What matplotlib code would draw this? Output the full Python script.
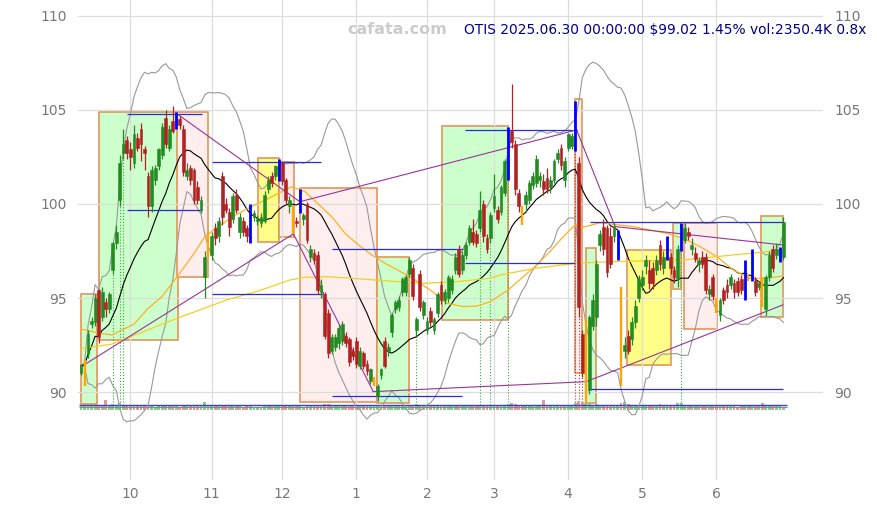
import matplotlib
matplotlib.use("Agg")
import matplotlib.pyplot as plt
from matplotlib.patches import Rectangle
import numpy as np
import pandas as pd

# trading calendar shown on the chart
START, END = "2024-09-11", "2025-06-30"
HOLIDAYS = ["2024-11-28", "2024-12-25", "2025-01-01", "2025-01-09", "2025-01-20",
            "2025-02-17", "2025-04-18", "2025-05-26", "2025-06-19"]

opens = [
    91.0, 91.3, 92.0, 93.6, 93.7, 95.4, 94.0, 94.8, 94.4, 96.5,
    97.9, 100.2, 102.7, 103.4, 102.9, 102.2, 103.5, 104.0, 102.9, 101.5,
    99.9, 101.3, 102.0, 102.6, 104.6, 103.0, 104.4, 104.1, 104.5, 104.0,
    101.5, 101.9, 101.8, 100.9, 99.7, 96.1, 97.8, 97.3, 98.7, 98.3,
    101.5, 100.0, 99.6, 99.2, 100.5, 98.5, 99.1, 98.7, 98.0, 99.3,
    99.1, 99.0, 99.1, 100.8, 101.5, 101.5, 101.5, 102.2, 101.3, 99.9,
    99.8, 99.1, 99.6, 99.2, 100.0, 97.2, 97.4, 97.3, 95.3, 95.2,
    94.2, 92.2, 92.4, 92.6, 92.7, 93.0, 92.8, 92.2, 92.7, 91.4,
    92.1, 91.5, 90.6, 90.4, 89.8, 90.9, 92.7, 92.2, 93.2, 94.4,
    94.5, 95.3, 95.3, 96.3, 96.6, 93.3, 96.3, 94.1, 93.3, 94.3,
    93.3, 94.2, 95.7, 94.9, 95.0, 95.4, 96.5, 97.6, 96.5, 97.3,
    98.0, 98.5, 98.4, 98.7, 100.0, 98.2, 98.2, 99.8, 99.7, 99.6,
    100.6, 101.5, 103.9, 103.2, 100.6, 99.8, 100.0, 100.2, 101.0, 101.1,
    101.3, 101.2, 101.4, 100.9, 101.3, 102.4, 103.0, 101.3, 103.0, 103.1,
    103.0, 102.2, 93.1, 90.6, 90.1, 93.5, 94.0, 97.8, 98.8, 98.7,
    98.3, 98.3, 97.2, 95.6, 92.2, 93.0, 92.8, 93.7, 95.0, 95.7,
    96.7, 96.5, 96.6, 96.5, 97.8, 96.6, 97.1, 97.2, 96.5, 96.0,
    97.6, 98.1, 98.5, 97.6, 97.4, 96.8, 97.2, 97.2, 95.2, 96.1,
    94.9, 94.1, 95.4, 95.7, 95.7, 95.8, 95.9, 96.0, 95.0, 96.2,
    96.0, 95.9, 95.6, 95.9, 94.4, 96.1, 97.6, 97.3, 97.0, 97.2,
]
highs = [
    91.5, 91.7, 93.3, 94.0, 95.2, 95.5, 95.6, 95.0, 95.3, 98.0,
    98.9, 102.6, 104.0, 103.6, 103.3, 104.2, 103.8, 104.3, 103.1, 101.7,
    102.0, 102.1, 103.0, 104.3, 105.0, 104.2, 105.2, 104.9, 104.7, 104.2,
    102.2, 102.1, 101.9, 101.2, 100.4, 97.5, 98.5, 98.5, 99.0, 99.3,
    101.7, 100.3, 99.8, 100.6, 100.8, 99.5, 99.3, 98.9, 100.0, 99.7,
    99.4, 99.5, 100.7, 101.5, 101.7, 102.1, 102.4, 102.3, 101.4, 100.4,
    99.9, 99.3, 100.8, 99.5, 100.1, 97.8, 97.6, 97.5, 96.0, 95.3,
    94.4, 93.1, 93.1, 93.6, 93.8, 93.2, 92.9, 92.4, 92.9, 92.4,
    92.2, 91.7, 91.3, 90.8, 90.4, 91.3, 92.9, 92.6, 94.2, 94.9,
    95.1, 96.1, 96.2, 97.2, 96.8, 94.0, 96.5, 94.9, 94.0, 94.5,
    94.0, 95.3, 95.9, 95.5, 96.2, 96.2, 97.4, 97.8, 97.5, 98.0,
    98.9, 99.2, 98.6, 100.7, 100.2, 98.4, 99.6, 101.6, 99.9, 101.0,
    102.4, 104.1, 106.4, 103.4, 100.8, 99.9, 100.7, 101.3, 101.7, 102.6,
    101.7, 101.6, 101.9, 101.5, 102.4, 102.9, 103.2, 102.5, 103.8, 103.8,
    105.5, 102.5, 93.3, 93.9, 94.1, 95.2, 97.0, 98.6, 99.2, 98.9,
    98.8, 99.0, 98.6, 95.6, 92.9, 93.3, 94.0, 94.9, 96.2, 96.5,
    97.3, 97.0, 96.9, 97.3, 98.1, 97.5, 98.3, 97.4, 96.7, 97.8,
    99.0, 99.0, 98.8, 98.2, 97.7, 97.2, 97.5, 97.4, 95.7, 96.3,
    95.0, 95.0, 95.6, 96.0, 96.3, 96.0, 96.1, 96.2, 97.0, 96.3,
    97.6, 96.1, 95.9, 96.1, 96.2, 97.5, 97.8, 97.9, 97.7, 99.3,
]
lows = [
    90.9, 90.3, 91.8, 93.4, 93.5, 92.6, 93.8, 94.0, 94.2, 96.3,
    97.6, 99.9, 102.4, 102.4, 101.8, 101.9, 102.8, 102.3, 101.8, 99.3,
    99.6, 101.0, 101.8, 102.4, 103.0, 102.8, 103.8, 104.0, 104.0, 101.5,
    101.3, 101.0, 100.0, 100.0, 99.5, 95.0, 97.2, 97.0, 97.8, 98.0,
    98.9, 99.5, 98.3, 99.0, 99.5, 98.2, 98.3, 98.0, 97.9, 99.1,
    98.9, 98.8, 99.0, 100.6, 100.9, 101.3, 101.2, 101.0, 100.0, 99.5,
    98.4, 98.8, 99.5, 98.9, 97.9, 96.9, 96.8, 95.2, 95.0, 92.8,
    91.8, 92.0, 92.2, 92.3, 92.5, 92.4, 91.4, 91.7, 91.3, 91.2,
    91.2, 90.9, 90.4, 90.3, 89.5, 90.7, 91.3, 91.9, 92.9, 94.2,
    94.3, 95.1, 95.1, 96.1, 94.9, 92.9, 94.3, 93.9, 93.1, 93.5,
    93.1, 94.0, 94.7, 94.7, 94.8, 95.2, 96.3, 96.1, 96.3, 97.1,
    97.8, 97.8, 97.7, 98.5, 98.0, 97.4, 97.9, 99.6, 99.0, 99.4,
    100.4, 101.3, 103.0, 100.5, 99.6, 98.9, 99.6, 100.0, 100.8, 100.9,
    100.9, 100.5, 100.6, 100.6, 101.1, 102.2, 101.8, 100.9, 102.8, 102.9,
    102.8, 94.0, 90.8, 89.4, 89.9, 93.3, 93.5, 97.5, 97.3, 96.1,
    96.6, 98.0, 97.0, 90.3, 91.8, 92.0, 92.5, 93.4, 94.8, 95.4,
    96.3, 95.5, 95.5, 96.2, 96.5, 96.3, 97.0, 96.3, 95.8, 95.6,
    97.5, 97.9, 98.1, 97.3, 96.9, 96.4, 96.6, 95.2, 94.9, 94.9,
    94.2, 93.8, 94.7, 95.0, 95.5, 95.0, 95.1, 95.2, 94.9, 95.9,
    95.9, 95.1, 95.4, 94.5, 94.1, 95.9, 96.4, 97.1, 96.9, 97.0,
]
closes = [
    91.4, 91.5, 93.1, 93.8, 95.0, 92.9, 95.3, 94.4, 95.2, 97.9,
    98.5, 102.2, 103.2, 102.7, 102.5, 103.7, 103.0, 103.2, 102.7, 99.9,
    101.8, 101.9, 102.9, 104.1, 103.2, 104.0, 103.9, 104.8, 104.2, 101.7,
    101.8, 101.3, 100.2, 100.2, 100.2, 97.2, 97.9, 98.3, 98.2, 99.1,
    99.3, 99.7, 98.8, 100.4, 99.7, 99.3, 98.5, 98.3, 99.3, 99.5,
    99.2, 99.3, 100.5, 101.3, 101.1, 102.0, 102.2, 101.2, 100.2, 100.2,
    99.0, 99.0, 100.5, 99.4, 98.1, 97.6, 97.0, 95.4, 95.7, 93.0,
    92.1, 92.9, 92.9, 93.4, 93.6, 92.6, 91.6, 91.9, 91.5, 92.2,
    91.4, 91.1, 91.2, 90.6, 90.3, 91.2, 91.4, 92.4, 94.1, 94.8,
    94.9, 96.0, 96.1, 97.0, 95.1, 93.9, 94.5, 94.8, 93.8, 93.7,
    93.9, 95.2, 94.9, 95.3, 96.1, 96.0, 97.2, 96.3, 97.3, 97.8,
    98.7, 98.0, 97.9, 99.7, 98.3, 97.6, 99.4, 100.4, 99.2, 100.9,
    102.3, 103.9, 103.3, 100.8, 99.9, 99.1, 100.5, 101.1, 101.5, 102.4,
    101.5, 100.8, 100.8, 101.3, 102.3, 102.7, 102.1, 102.3, 103.7, 103.6,
    103.5, 94.5, 91.0, 93.4, 94.0, 94.9, 96.8, 98.4, 97.6, 96.4,
    96.8, 98.8, 98.4, 91.9, 92.5, 92.2, 93.7, 94.6, 96.0, 96.1,
    97.0, 95.8, 95.8, 97.0, 96.8, 97.2, 98.2, 96.6, 96.1, 97.6,
    98.9, 98.7, 98.3, 97.8, 97.1, 97.0, 96.8, 95.4, 95.5, 95.1,
    94.3, 94.9, 94.9, 95.3, 96.1, 95.3, 95.3, 95.4, 96.8, 96.0,
    97.4, 95.3, 95.8, 94.6, 96.1, 97.3, 96.6, 97.6, 97.6, 99.02,
]
volumes_k = [
    3100, 2800, 3400, 2600, 3900, 3000, 2900, 7400, 3300, 4100,
    3600, 4800, 3900, 3000, 2700, 3300, 2500, 2900, 2600, 3800,
    3400, 2400, 2600, 3500, 3200, 2700, 3000, 3100, 2300, 3900,
    3000, 2700, 3100, 2600, 2800, 5800, 3600, 3200, 2900, 2700,
    3300, 2600, 2800, 2500, 2700, 2600, 2400, 2500, 3400, 2300,
    2200, 2400, 2900, 3000, 2600, 2800, 3100, 2900, 3300, 2700,
    3000, 2500, 3200, 2400, 3600, 3300, 2800, 3900, 2900, 4200,
    4500, 3700, 3100, 3000, 2800, 3200, 3500, 2700, 3300, 2900,
    3100, 3000, 3400, 3200, 3900, 3300, 3000, 2800, 3600, 3100,
    2900, 3200, 3000, 3400, 3700, 4400, 3900, 3100, 3300, 3000,
    3200, 3500, 3100, 2900, 3000, 2700, 3300, 3600, 3000, 2800,
    2900, 2700, 2600, 3400, 3200, 3000, 3300, 3100, 2800, 3400,
    3800, 4200, 5200, 4100, 3500, 3100, 2900, 2700, 2600, 3000,
    2800, 7600, 3000, 2700, 2900, 2600, 2800, 3000, 2700, 3100,
    4800, 6600, 5900, 5200, 4400, 3900, 4100, 3600, 3300, 3800,
    3400, 3000, 3600, 4900, 5600, 4300, 3900, 3700, 3500, 3200,
    3000, 3300, 2900, 3100, 4600, 3000, 2800, 2900, 3200, 4800,
    5300, 3100, 2700, 2600, 2800, 2500, 2700, 3300, 2900, 3000,
    2800, 2600, 2700, 2500, 2900, 2600, 2400, 2700, 3000, 2500,
    2800, 2600, 2700, 5400, 3100, 3200, 2900, 2800, 2700, 2350,
]
blue_days = [27, 48, 56, 62, 121, 140, 152, 166, 170, 188, 190, 198]
orange_days = [1, 36, 60, 83, 125, 143, 153, 180, 189, 193]
green_marks = [9, 11, 12, 95, 113, 116, 121, 170]
red_marks = [140, 141, 142]

# price zones: start day, end day, bottom, top, kind
zone_x0 = [0.0, 5.0, 27.3, 50.2, 56.2, 62.0, 83.9, 102.2, 139.9, 143.0, 154.8, 167.6, 170.9, 192.5]
zone_x1 = [4.45, 27.4, 36.1, 56.2, 60.4, 83.9, 93.0, 121.0, 142.0, 145.9, 167.1, 169.9, 180.1, 198.8]
zone_lo = [89.36, 92.77, 96.13, 97.96, 98.26, 89.48, 89.43, 93.83, 91.0, 89.4, 91.44, 95.46, 93.33, 93.97]
zone_hi = [95.2, 104.88, 104.88, 102.43, 102.25, 100.83, 97.2, 104.15, 105.57, 97.64, 97.55, 98.97, 98.97, 99.36]
zone_kind = ["up", "up", "down", "flat", "down", "down", "up", "up", "down", "up", "flat", "up", "down", "up"]

# horizontal levels: price, from day, to day
level_y = [104.77, 99.68, 102.22, 95.2, 97.59, 96.85, 99.06, 90.14, 103.94, 89.79]
level_x0 = [13.0, 13.0, 37.0, 37.0, 71.1, 108.8, 144.2, 144.2, 108.8, 71.1]
level_x1 = [34.3, 34.3, 68.0, 68.2, 108.2, 139.9, 198.9, 198.9, 140.5, 107.9]

# trend lines (day, price) -> (day, price)
trend_x0 = [1.1, 27.4, 62.0, 60.1, 82.8, 143.1, 140.4, 151.3]
trend_y0 = [91.47, 104.77, 100.12, 98.44, 90.02, 90.55, 103.94, 98.8]
trend_x1 = [60.1, 62.0, 140.4, 82.8, 143.1, 198.8, 151.3, 198.8]
trend_y1 = [98.4, 100.12, 103.94, 90.02, 90.55, 94.63, 98.8, 97.82]

# 50- and 100-day averages
ma50_x = [0.0, 5.4, 8.8, 11.6, 15.0, 19.0, 22.9, 26.9, 31.4, 35.1, 38.9, 43.6, 47.4, 51.2, 55.0,
          59.7, 63.5, 67.2, 71.0, 74.8, 78.6, 82.4, 86.1, 93.2, 98.9, 103.6, 108.3, 112.1, 115.9,
          121.0, 124.8, 128.6, 132.4, 136.2, 139.9, 142.8, 147.0, 151.8, 156.4, 165.9, 170.6,
          175.4, 180.1, 184.8, 189.5, 194.2, 198.8]
ma50_y = [93.35, 93.12, 93.03, 93.3, 93.6, 94.45, 95.07, 96.05, 97.2, 98.26, 98.8, 99.4, 99.77,
          100.12, 100.48, 100.92, 100.65, 100.0, 99.33, 98.44, 97.82, 97.29, 96.85, 96.13, 95.43,
          94.72, 94.54, 94.57, 94.8, 95.43, 96.05, 96.67, 97.38, 98.17, 98.88, 98.79, 99.0, 98.9,
          98.8, 98.44, 98.17, 97.73, 97.2, 96.49, 96.05, 96.05, 96.17]
ma100_x = [0.0, 8.8, 27.2, 41.3, 50.7, 59.2, 63.5, 70.1, 76.7, 87.5, 97.0, 106.4, 115.9, 118.7,
           128.6, 140.4, 149.9, 170.6, 184.8, 198.8]
ma100_y = [92.3, 92.55, 93.92, 94.9, 95.4, 95.96, 96.1, 96.13, 96.05, 95.9, 95.78, 95.87, 96.05,
           96.22, 96.58, 96.85, 96.93, 97.02, 97.29, 97.55]

TITLE = "OTIS 2025.06.30 00:00:00 \\$99.02 1.45% vol:2350.4K 0.8x"

GREEN, RED = "#228b22", "#b22222"
ZONE_FILL = {"up": "#ccffcc", "down": "#ffeeee", "flat": "#ffff88"}


def trading_days():
    days = pd.bdate_range(START, END)
    return days[~days.isin(pd.to_datetime(HOLIDAYS))]


def main():
    dates = trading_days()
    o, h, l, c = (np.asarray(a, dtype=float) for a in (opens, highs, lows, closes))
    n = len(c)
    x = np.arange(n)

    fig = plt.figure(figsize=(8.77, 5.09), dpi=100)
    ax = fig.add_axes([78 / 877, 29 / 509, 745 / 877, 480 / 509])
    ax.set_xlim(-0.85, 210.2)
    ax.set_ylim(85.32, 110.85)

    for x0, x1, lo, hi, kind in zip(zone_x0, zone_x1, zone_lo, zone_hi, zone_kind):
        ax.add_patch(Rectangle((x0, lo), x1 - x0, hi - lo, facecolor=ZONE_FILL[kind],
                               edgecolor="#e0965a", lw=1.2, zorder=0.2))

    # volume strip along the bottom
    vol = np.asarray(volumes_k, dtype=float)
    vcol = np.where(c >= o, "#88cc88", "#e09a9a")
    ax.bar(x, vol / vol.max() * 0.55, bottom=89.05, width=0.8, color=vcol, zorder=2)
    ax.hlines(89.22, -0.5, n, color="#888888", lw=0.8, zorder=2.1)
    ax.hlines(89.32, -0.5, n, color="#3344cc", lw=1.0, zorder=2.1)

    for d in green_marks:
        ax.vlines(d, 89.3, h[d], color="#3aa83a", lw=0.8, linestyles=":", zorder=1.5)
    for d in red_marks:
        ax.vlines(d, 89.3, h[d], color="#cc3333", lw=0.8, linestyles=":", zorder=1.5)

    # indicators
    s = pd.Series(c)
    mid = s.rolling(20, min_periods=1).mean()
    sd = s.rolling(20, min_periods=1).std(ddof=0)
    ax.plot(x, mid + 2 * sd, color="#999999", lw=0.8, zorder=3)
    ax.plot(x, mid - 2 * sd, color="#999999", lw=0.8, zorder=3)
    ax.plot(x, mid, color="black", lw=0.8, zorder=3)
    ax.plot(ma50_x, ma50_y, color="#ffb020", lw=0.9, zorder=3)
    ax.plot(ma100_x, ma100_y, color="#f5d020", lw=0.9, zorder=3)

    for y, x0, x1 in zip(level_y, level_x0, level_x1):
        ax.hlines(y, x0, x1, color="#2a2ae0", lw=0.9, zorder=3.5)
    for x0, y0, x1, y1 in zip(trend_x0, trend_y0, trend_x1, trend_y1):
        ax.plot([x0, x1], [y0, y1], color="#993399", lw=0.8, zorder=3.5)

    # candles
    special = set(blue_days) | set(orange_days)
    normal = np.array([i for i in x if i not in special])
    up = c[normal] >= o[normal]
    col = np.where(up, GREEN, RED)
    ax.vlines(normal, l[normal], h[normal], color=col, lw=0.9, zorder=4)
    body_lo = np.minimum(o[normal], c[normal])
    body_h = np.maximum(np.abs(c[normal] - o[normal]), 0.04)
    ax.bar(normal, body_h, bottom=body_lo, width=0.8, color=col, edgecolor=col,
           linewidth=0.4, zorder=4.1)
    ax.vlines(orange_days, l[orange_days], h[orange_days], color="#ffa500", lw=1.7, zorder=4.2)
    ax.vlines(blue_days, l[blue_days], h[blue_days], color="#0000ff", lw=2.0, zorder=4.2)

    # month ticks
    months = pd.Series(dates.month)
    starts = list(np.flatnonzero(months.ne(months.shift()).to_numpy())[1:])
    ax.set_xticks(starts)
    ax.set_xticklabels([str(dates[i].month) for i in starts])
    ax.set_yticks([90, 95, 100, 105, 110])
    ax.tick_params(axis="x", length=0, pad=5, colors="#777777", labelsize=10)
    ax.tick_params(axis="y", length=0, pad=8, colors="#777777", labelsize=10,
                   labelleft=True, labelright=True)
    ax.set_axisbelow(True)
    ax.grid(True, color="#dddddd", lw=0.9)
    for sp in ax.spines.values():
        sp.set_visible(False)

    fig.text(397 / 877, 1 - 30 / 509, "cafata.com", color="#cccccc", fontsize=11.5,
             fontweight="bold", ha="center", va="center")
    fig.text(866 / 877, 1 - 30 / 509, TITLE, color="#000088", fontsize=9.9,
             ha="right", va="center")

    fig.savefig("out.png", dpi=100)
    plt.close(fig)


if __name__ == "__main__":
    main()
